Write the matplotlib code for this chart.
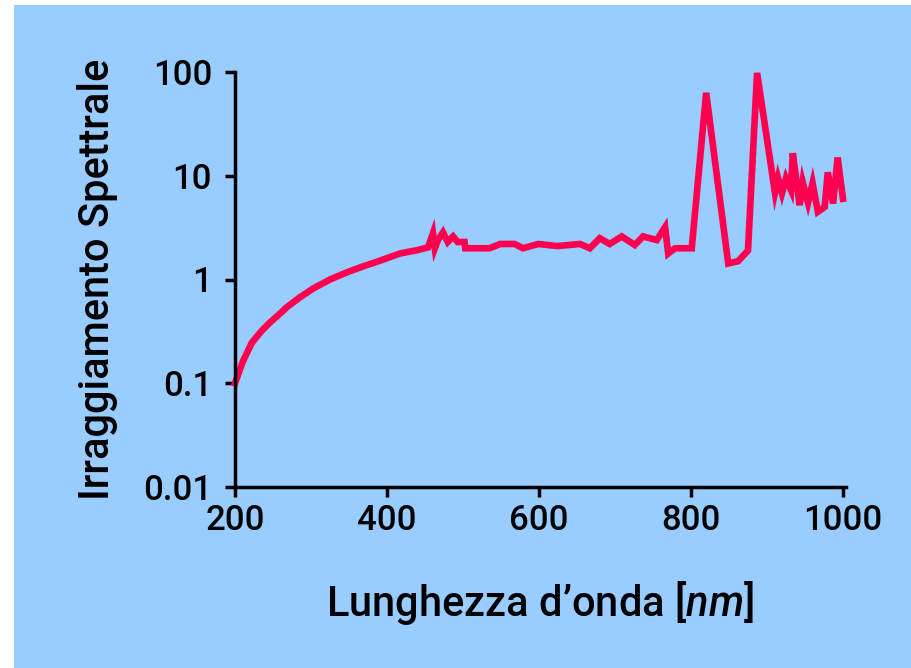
import matplotlib
matplotlib.use('Agg')
import matplotlib.pyplot as plt
from matplotlib.patches import Rectangle

plt.rcParams['font.family'] = ['Roboto', 'Liberation Sans', 'DejaVu Sans']
plt.rcParams['font.weight'] = 'medium'
plt.rcParams['axes.labelweight'] = 'medium'
plt.rcParams['mathtext.fontset'] = 'custom'
plt.rcParams['mathtext.it'] = 'Roboto:italic:medium'

# wavelength [nm] and spectral irradiance
wavelength = [200, 210, 222, 235, 246, 258, 268, 285, 303, 325, 347, 370, 391, 417,
              440, 454, 460.5, 463, 467, 473.7, 480, 487, 493, 502, 503, 518, 535,
              549, 568, 579, 599, 624, 654, 667, 680, 693, 709, 726, 737, 755, 766,
              770, 779, 786, 801, 820, 849, 862, 875, 887, 910.5, 914.5, 919.7, 925,
              931.6, 934, 943, 947, 954, 960, 967, 976, 980, 987, 993, 1000]
irradiance = [0.1, 0.16, 0.245, 0.32, 0.385, 0.46, 0.54, 0.67, 0.82, 1.0, 1.17, 1.35,
              1.52, 1.78, 1.92, 2.04, 2.8, 2.0, 2.4, 2.85, 2.3, 2.6, 2.3, 2.3, 2.0, 2.0,
              2.0, 2.2, 2.2, 2.0, 2.2, 2.1, 2.2, 2.0, 2.5, 2.2, 2.6, 2.15, 2.6, 2.4, 3.2,
              1.78, 2.0, 2.0, 2.0, 63, 1.43, 1.5, 1.9, 98, 6.9, 9.5, 6.8, 9.5, 7.3, 16.5,
              5.2, 8.7, 5.5, 8.5, 4.5, 5.0, 10.8, 5.4, 15, 6.0]

x_ticks = [200, 400, 600, 800, 1000]
y_ticks = [0.01, 0.1, 1, 10, 100]
y_labels = ['0.01', '0.1', '1', '10', '100']

fig = plt.figure(figsize=(9.11, 6.68), dpi=100, facecolor='white')
fig.patches.append(Rectangle((14 / 911, 0), 1, 1 - 5 / 668, transform=fig.transFigure,
                             facecolor='#99ccff', edgecolor='none', zorder=-10))

ax = fig.add_axes([235 / 911, 1 - 487 / 668, (846 - 235) / 911, (487 - 72) / 668])
ax.set_zorder(5)
ax.set_facecolor('none')
ax.plot(wavelength, irradiance, color='#ff0050', lw=4.8, solid_joinstyle='miter', clip_on=False)

ax.set_yscale('log')
ax.set_xlim(200, 1004)
ax.set_ylim(0.01, 100)
ax.set_xticks(x_ticks)
ax.set_yticks(y_ticks)
ax.set_yticklabels(y_labels)
ax.minorticks_off()

for s in ['top', 'right']:
    ax.spines[s].set_visible(False)
for s in ['left', 'bottom']:
    ax.spines[s].set_linewidth(2.5)

ax.tick_params(axis='both', direction='out', length=7.5, width=2.5, labelsize=25)
ax.tick_params(axis='y', pad=9)
ax.tick_params(axis='x', pad=5)

ax.set_xlabel('Lunghezza d\u2019onda [$\\mathit{nm}$]', fontsize=30, labelpad=30)
ax.set_ylabel('Irraggiamento Spettrale', fontsize=30, labelpad=18)

fig.savefig('out.png', dpi=100, facecolor=fig.get_facecolor())
